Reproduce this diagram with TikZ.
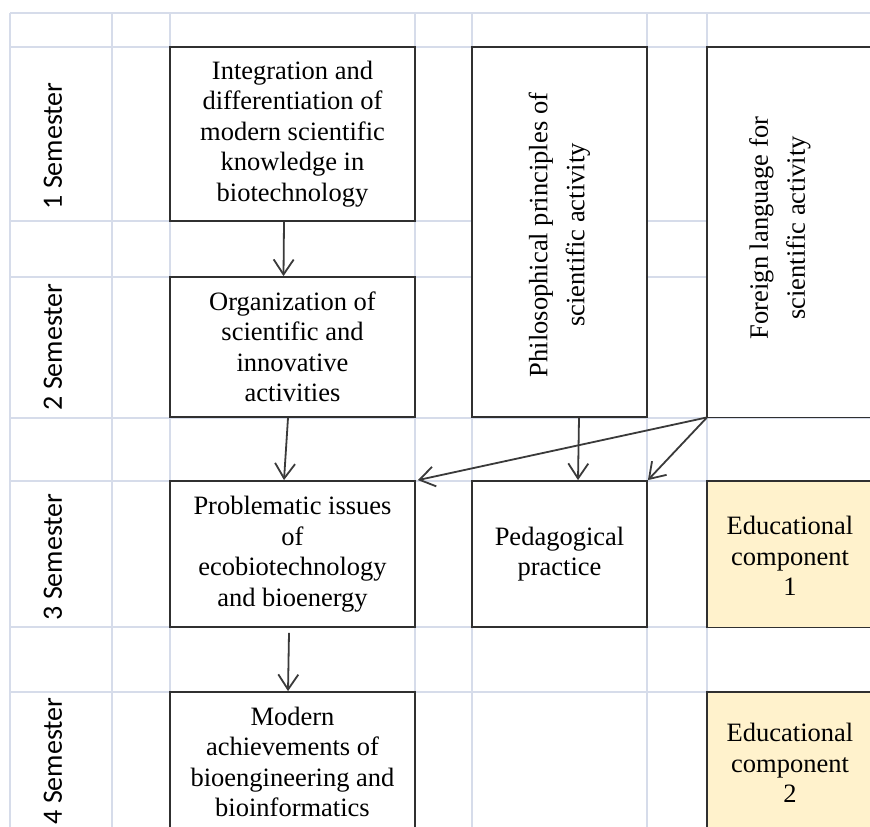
\documentclass[tikz,border=0pt]{standalone}
\usepackage{fontspec}
\setmainfont{Liberation Serif}
\newfontfamily\semfont{Carlito}
\usetikzlibrary{arrows.meta}
\definecolor{gridc}{HTML}{D6DCEA}
\definecolor{edfill}{HTML}{FFF2CC}
\definecolor{edgec}{HTML}{303030}
\definecolor{arrc}{HTML}{3A3A3A}
\begin{document}
\begin{tikzpicture}[x=1pt,y=-1pt,
  gridline/.style={draw=gridc,line width=1.8pt},
  box/.style={draw=edgec,line width=1.8pt,fill=white,align=center,inner sep=0pt,
    font=\fontsize{26.5}{30.5}\selectfont},
  openbox/.style={draw=none,fill=white,inner sep=0pt},
  openedge/.style={draw=edgec,line width=1.8pt},
  plain/.style={align=center,inner sep=0pt,font=\fontsize{26.5}{30.5}\selectfont},
  rottext/.style={rotate=90,align=center,inner sep=0pt,font=\fontsize{26.5}{37}\selectfont},
  semlabel/.style={rotate=90,inner sep=0pt,font=\semfont\fontsize{28}{33}\selectfont},
  arr/.style={draw=arrc,line width=1.8pt,-{Straight Barb[length=15pt,width=20pt]}}]
\useasboundingbox (0,0) rectangle (870,827);
\clip (0,0) rectangle (870,827);
\fill[white] (0,0) rectangle (870,827);
% grid
\foreach \y in {13,47,221,277,418,481,627,692} \draw[gridline] (10,\y) -- (880,\y);
\foreach \x in {10,112,170,415,472,647,707} \draw[gridline] (\x,13) -- (\x,840);
% semester labels
\node[semlabel] (s1) at (53,146) {1 Semester};
\node[semlabel] (s2) at (53,347) {2 Semester};
\node[semlabel] (s3) at (53,557) {3 Semester};
\node[semlabel] (s4) at (53,761) {4 Semester};
% boxes
\node[box,minimum width=245pt,minimum height=174pt] (b1) at (292.5,134)
  {Integration and\\ differentiation of\\ modern scientific\\ knowledge in\\ biotechnology};
\node[box,minimum width=245pt,minimum height=140pt] (b2) at (292.5,347)
  {Organization of\\ scientific and\\ innovative\\ activities};
\node[box,minimum width=245pt,minimum height=146pt] (b3) at (292.5,554)
  {Problematic issues\\ of\\ ecobiotechnology\\ and bioenergy};
\node[box,minimum width=245pt,minimum height=140pt] (b4) at (292.5,762)
  {Modern\\ achievements of\\ bioengineering and\\ bioinformatics};
\node[box,minimum width=175pt,minimum height=370pt] (ph) at (559.5,232) {};
\node[rottext] (pht) at (559.5,235) {Philosophical principles of\\ scientific activity};
% open-ended boxes on the right (cut by the picture edge)
\node[openbox,minimum width=200pt,minimum height=370pt,anchor=north west] (fo) at (707,47) {};
\draw[openedge] (fo.north east) -- (fo.north west) -- (fo.south west) -- (fo.south east);
\node[rottext] (fot) at (780,228) {Foreign language for\\ scientific activity};
\node[box,minimum width=175pt,minimum height=146pt] (ped) at (559.5,554)
  {Pedagogical\\ practice};
\node[openbox,fill=edfill,minimum width=200pt,minimum height=146pt,anchor=north west] (e1) at (707,481) {};
\draw[openedge] (e1.north east) -- (e1.north west) -- (e1.south west) -- (e1.south east);
\node[plain] (e1t) at (790,556) {Educational\\ component\\ 1};
\node[openbox,fill=edfill,minimum width=200pt,minimum height=150pt,anchor=north west] (e2) at (707,692) {};
\draw[openedge] (e2.north east) -- (e2.north west) -- (e2.south west);
\node[plain] (e2t) at (790,763) {Educational\\ component\\ 2};
% arrows
\draw[arr] ([xshift=-8.5pt]b1.south) -- ([xshift=-9pt]b2.north);
\draw[arr] ([xshift=-4.5pt]b2.south) -- ([xshift=-8.5pt]b3.north);
\draw[arr] ([xshift=-3.5pt,yshift=-5pt]b3.south) -- ([xshift=-4.5pt]b4.north);
\draw[arr] ([xshift=19.5pt]ph.south) -- ([xshift=18.5pt]ped.north);
\draw[arr] (fo.south west) -- (ped.north east);
\draw[arr] (fo.south west) -- ([xshift=2pt]b3.north east);
\end{tikzpicture}
\end{document}
